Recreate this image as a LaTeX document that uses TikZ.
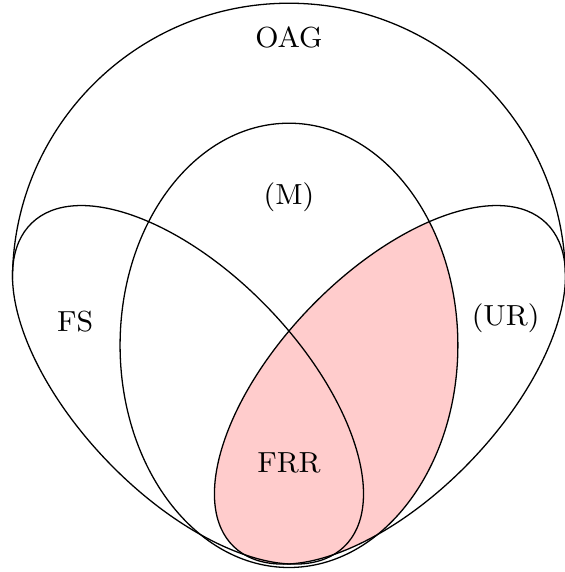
\documentclass[tikz,border=0pt]{standalone}
\usetikzlibrary{calc}
\tikzset{SET/.style={draw,line width=0.4pt}}
\tikzset{LABEL/.style={font=\small,inner sep=0pt}}
\tikzset{SHADE/.style={fill=red!20}}

\begin{document}
\begin{tikzpicture}

\useasboundingbox (-3.148,-0.049) rectangle (2.996,6.182);

\coordinate (c_bottom) at (0,0);
\coordinate (c_fs) at (-1.10,1.99);
\coordinate (c_ur) at (1.10,1.99);
\coordinate (c_m) at (0,2.42);
\coordinate (c_oag) at (0,3.135);

% shaded part: (UR) inside (M)
\begin{scope}
\clip (c_m) ellipse [x radius=1.84, y radius=2.42];
\fill[SHADE, rotate around={46:(c_ur)}] (c_ur) ellipse [x radius=2.45, y radius=1.21];
\end{scope}

\draw[SET] (c_m) ellipse [x radius=1.84, y radius=2.42];
\draw[SET, rotate around={-46:(c_fs)}] (c_fs) ellipse [x radius=2.45, y radius=1.21];
\draw[SET, rotate around={46:(c_ur)}] (c_ur) ellipse [x radius=2.45, y radius=1.21];
\draw[SET] ($(c_oag)+(-3.012,0)$) arc [start angle=180, end angle=0, radius=3.012];

\node[LABEL] (n_oag) at (0,5.77) {OAG};
\node[LABEL] (n_m) at (0,4.03) {(M)};
\node[LABEL] (n_fs) at (-2.33,2.68) {FS};
\node[LABEL] (n_ur) at (2.36,2.72) {(UR)};
\node[LABEL] (n_frr) at (0,1.14) {FRR};

\end{tikzpicture}
\end{document}
